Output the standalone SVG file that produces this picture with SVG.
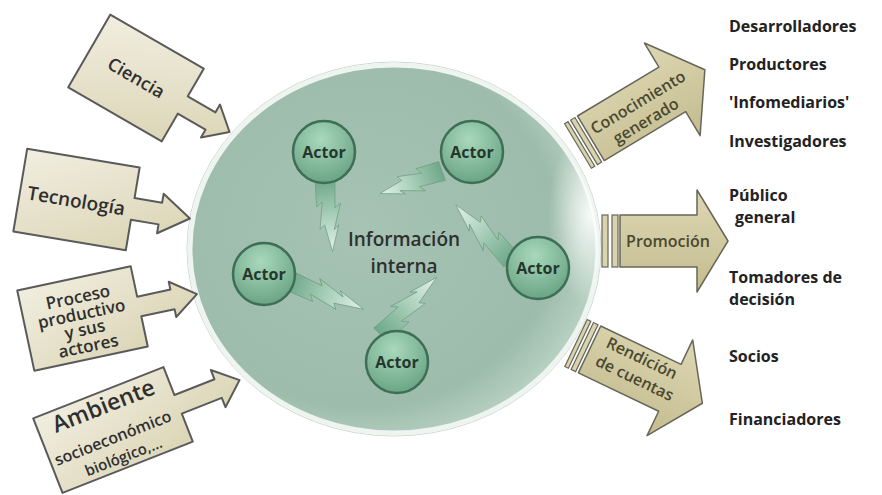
<svg xmlns="http://www.w3.org/2000/svg" width="882" height="495" viewBox="0 0 882 495">
<defs>
<style>
.box{fill:url(#boxg);stroke:#5a5a5a;stroke-width:2;stroke-linejoin:round}
.lt{font-family:"Open Sans","Liberation Sans",sans-serif;font-weight:600;fill:#2f2f2f;text-anchor:middle}
.rar{fill:url(#arrg);stroke:#67665a;stroke-width:1.5;stroke-linejoin:round}
.str{fill:#d9d3b0;stroke:#67665a;stroke-width:1.2}
.at{font-family:"Open Sans","Liberation Sans",sans-serif;font-weight:600;fill:#4a4830;text-anchor:middle;font-size:16px}
.lbl{font-family:"Open Sans","Liberation Sans",sans-serif;font-weight:700;font-size:16px;fill:#222}
.actor circle{fill:url(#actg);stroke:#3e6f56;stroke-width:2.5}
.actor text{font-family:"Open Sans","Liberation Sans",sans-serif;font-weight:700;font-size:16px;fill:#25372c;text-anchor:middle}
.bolt{fill:url(#boltg);stroke:#6a9c80;stroke-width:0.8;stroke-linejoin:miter}
</style>
<linearGradient id="boxg" x1="0" y1="0" x2="1" y2="1">
<stop offset="0" stop-color="#f1eee0"/><stop offset="1" stop-color="#d8d1af"/>
</linearGradient>
<linearGradient id="arrg" x1="0" y1="0" x2="0" y2="1">
<stop offset="0" stop-color="#ddd7b3"/><stop offset="1" stop-color="#c4bc8f"/>
</linearGradient>
<radialGradient id="bigg" cx="0.42" cy="0.45" r="0.6">
<stop offset="0" stop-color="#a6c3b3"/><stop offset="0.8" stop-color="#9dbcab"/><stop offset="1" stop-color="#b9d2c4"/>
</radialGradient>
<radialGradient id="hlg" cx="0.5" cy="0.5" r="0.5">
<stop offset="0" stop-color="#ffffff" stop-opacity="0.9"/><stop offset="1" stop-color="#ffffff" stop-opacity="0"/>
</radialGradient>
<radialGradient id="actg" cx="0.45" cy="0.3" r="0.7">
<stop offset="0" stop-color="#a9d8bb"/><stop offset="1" stop-color="#6aa585"/>
</radialGradient>
<linearGradient id="boltg" x1="0" y1="0" x2="1" y2="0">
<stop offset="0" stop-color="#6fa88a"/><stop offset="0.5" stop-color="#a9cfb9"/><stop offset="1" stop-color="#e4f2ea"/>
</linearGradient>
<clipPath id="bigclip"><ellipse cx="394" cy="249" rx="204" ry="184"/></clipPath>
<path id="boltp" d="M0,-10 L40,-7 L34,-13 L70,-4 L64,-9 L100,0 L62,5 L67,10 L30,5 L36,11 L0,10 Z"/>
</defs>
<rect width="882" height="495" fill="#ffffff"/>

<g id="informacion-interna">
<ellipse cx="394" cy="249" rx="207" ry="187" fill="none" stroke="#cdd8d1" stroke-width="1"/>
<ellipse cx="394" cy="249" rx="204" ry="184" fill="url(#bigg)" stroke="#eef4f0" stroke-width="5"/>
<ellipse cx="590" cy="215" rx="42" ry="90" fill="url(#hlg)" clip-path="url(#bigclip)"/>
<text class="lt" x="404" y="246" font-size="19">Información</text>
<text class="lt" x="404" y="273" font-size="19">interna</text>
</g>

<g id="connectors">
<use href="#boltp" class="bolt" transform="translate(325,180) rotate(84) scale(0.72,1)"/>
<use href="#boltp" class="bolt" transform="translate(442,171) rotate(160) scale(0.66,1)"/>
<use href="#boltp" class="bolt" transform="translate(511,260) rotate(225) scale(0.78,1)"/>
<use href="#boltp" class="bolt" transform="translate(290,281) rotate(21) scale(0.79,1)"/>
<use href="#boltp" class="bolt" transform="translate(381,335) rotate(-46) scale(0.8,1)"/>
</g>

<g id="actor-1" class="actor"><circle cx="324" cy="152" r="31"/><text x="324" y="158">Actor</text></g>
<g id="actor-2" class="actor"><circle cx="472" cy="152" r="31"/><text x="472" y="158">Actor</text></g>
<g id="actor-3" class="actor"><circle cx="264" cy="274" r="31"/><text x="264" y="280">Actor</text></g>
<g id="actor-4" class="actor"><circle cx="538" cy="268" r="31"/><text x="538" y="274">Actor</text></g>
<g id="actor-5" class="actor"><circle cx="397" cy="362" r="31"/><text x="397" y="368">Actor</text></g>

<g id="ciencia" transform="translate(136,78) rotate(30)">
<path class="box" d="M-54,-42H54V-10H86V-19L108,0L86,19V10H54V42H-54Z"/>
<text class="lt" x="0" y="6" font-size="18">Ciencia</text>
</g>
<g id="tecnologia" transform="translate(76.5,199.5) rotate(9.5)">
<path class="box" d="M-57,-42H57V-11H85V-20L115,0L85,20V11H57V42H-57Z"/>
<text class="lt" x="0" y="8" font-size="19">Tecnología</text>
</g>
<g id="proceso" transform="translate(82.5,318.5) rotate(-12)">
<path class="box" d="M-58,-41H58V-10H92V-18L117,0L92,18V10H58V41H-58Z"/>
<text class="lt" x="0" y="-16" font-size="17">Proceso</text>
<text class="lt" x="0" y="1" font-size="17">productivo</text>
<text class="lt" x="0" y="17" font-size="17">y sus</text>
<text class="lt" x="0" y="34" font-size="17">actores</text>
</g>
<g id="ambiente" transform="translate(113,430) rotate(-21.5)">
<path class="box" d="M-70,-40H70V-10H113V-20L136,0L113,20V10H70V40H-70Z"/>
<text class="lt" x="0" y="-18" font-size="23">Ambiente</text>
<text class="lt" x="-3" y="13" font-size="16">socioeconómico</text>
<text class="lt" x="0" y="34" font-size="15">biológico,...</text>
</g>

<g id="conocimiento" transform="translate(578,146) rotate(-31)">
<rect class="str" x="0" y="-26" width="4" height="52"/>
<rect class="str" x="7" y="-26" width="5" height="52"/>
<path class="rar" d="M15,-26H110V-54L148,0L110,54V26H15Z"/>
<text class="at" x="74" y="-1">Conocimiento</text>
<text class="at" x="71" y="19">generado</text>
</g>
<g id="promocion" transform="translate(602,241)">
<rect class="str" x="0" y="-26" width="6" height="52"/>
<rect class="str" x="10" y="-26" width="6" height="52"/>
<path class="rar" d="M18,-26H95V-51L126,0L95,51V26H18Z"/>
<text class="at" x="66" y="6" font-size="17">Promoción</text>
</g>
<g id="rendicion" transform="translate(576,343) rotate(25.5)">
<rect class="str" x="0" y="-26" width="4" height="52"/>
<rect class="str" x="7" y="-26" width="5" height="52"/>
<path class="rar" d="M15,-26H104V-53L140,0L104,53V26H15Z"/>
<text class="at" x="66" y="-9">Rendición</text>
<text class="at" x="68" y="12">de cuentas</text>
</g>

<g id="destinatarios">
<text class="lbl" x="729" y="32">Desarrolladores</text>
<text class="lbl" x="729" y="70">Productores</text>
<text class="lbl" x="729" y="108">'Infomediarios'</text>
<text class="lbl" x="729" y="147">Investigadores</text>
<text class="lbl" x="729" y="201">Público</text>
<text class="lbl" x="735" y="223">general</text>
<text class="lbl" x="729" y="283">Tomadores de</text>
<text class="lbl" x="729" y="305">decisión</text>
<text class="lbl" x="729" y="362">Socios</text>
<text class="lbl" x="729" y="425">Financiadores</text>
</g>
</svg>
